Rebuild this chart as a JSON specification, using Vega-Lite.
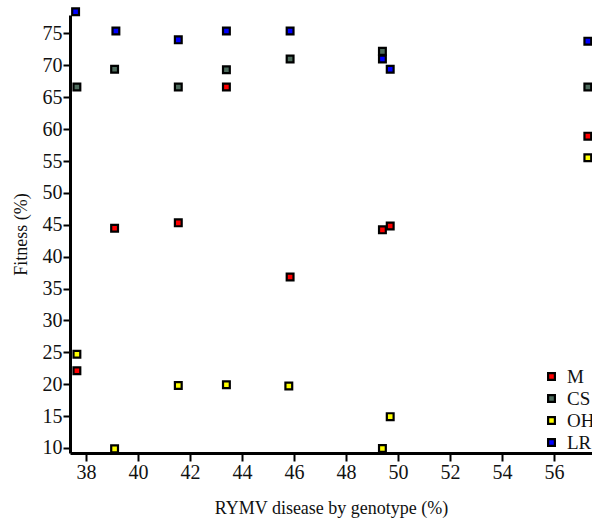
{
  "$schema": "https://vega.github.io/schema/vega-lite/v6.json",
  "autosize": "none",
  "padding": {"left": 70, "top": 15, "right": 0, "bottom": 70},
  "width": 522,
  "height": 438,
  "background": "white",
  "config": {
    "view": {"stroke": null},
    "font": "Liberation Serif, Times New Roman, serif",
    "axis": {"grid": false, "domainColor": "black", "tickColor": "black", "labelColor": "#111", "titleColor": "#111", "labelFont": "Liberation Serif, Times New Roman, serif", "titleFont": "Liberation Serif, Times New Roman, serif", "titleFontWeight": "normal"},
    "legend": {"labelFont": "Liberation Serif, Times New Roman, serif"}
  },
  "data": {
    "values": [
      {"genotype": "LR", "rymv": 37.6, "fitness": 78.4},
      {"genotype": "LR", "rymv": 39.15, "fitness": 75.4},
      {"genotype": "LR", "rymv": 41.55, "fitness": 74.0},
      {"genotype": "LR", "rymv": 43.4, "fitness": 75.4},
      {"genotype": "LR", "rymv": 45.85, "fitness": 75.4},
      {"genotype": "LR", "rymv": 49.4, "fitness": 71.0},
      {"genotype": "LR", "rymv": 49.7, "fitness": 69.4},
      {"genotype": "LR", "rymv": 57.3, "fitness": 73.8},
      {"genotype": "CS", "rymv": 37.65, "fitness": 66.6},
      {"genotype": "CS", "rymv": 39.1, "fitness": 69.4},
      {"genotype": "CS", "rymv": 41.55, "fitness": 66.6},
      {"genotype": "CS", "rymv": 43.4, "fitness": 69.3},
      {"genotype": "CS", "rymv": 45.85, "fitness": 71.0},
      {"genotype": "CS", "rymv": 49.4, "fitness": 72.2},
      {"genotype": "CS", "rymv": 57.3, "fitness": 66.6},
      {"genotype": "M", "rymv": 37.65, "fitness": 22.1},
      {"genotype": "M", "rymv": 39.1, "fitness": 44.45},
      {"genotype": "M", "rymv": 41.55, "fitness": 45.3},
      {"genotype": "M", "rymv": 43.4, "fitness": 66.6},
      {"genotype": "M", "rymv": 45.85, "fitness": 36.8},
      {"genotype": "M", "rymv": 49.4, "fitness": 44.2},
      {"genotype": "M", "rymv": 49.7, "fitness": 44.8},
      {"genotype": "M", "rymv": 57.3, "fitness": 58.9},
      {"genotype": "OH", "rymv": 37.65, "fitness": 24.7},
      {"genotype": "OH", "rymv": 39.1, "fitness": 9.85},
      {"genotype": "OH", "rymv": 41.55, "fitness": 19.8},
      {"genotype": "OH", "rymv": 43.4, "fitness": 19.9},
      {"genotype": "OH", "rymv": 45.8, "fitness": 19.7},
      {"genotype": "OH", "rymv": 49.7, "fitness": 14.9},
      {"genotype": "OH", "rymv": 49.4, "fitness": 9.9},
      {"genotype": "OH", "rymv": 57.3, "fitness": 55.5}
    ]
  },
  "mark": {"type": "point", "shape": "square", "filled": true, "size": 46, "stroke": "black", "strokeWidth": 2.2, "opacity": 1, "clip": false},
  "encoding": {
    "x": {
      "field": "rymv", "type": "quantitative",
      "scale": {"domain": [37.385, 57.46], "nice": false, "zero": false},
      "axis": {"title": "RYMV disease by genotype (%)", "values": [38, 40, 42, 44, 46, 48, 50, 52, 54, 56], "domainWidth": 3, "tickWidth": 2, "tickSize": 8, "labelFontSize": 20, "labelPadding": 1, "titleFontSize": 18, "titlePadding": 17}
    },
    "y": {
      "field": "fitness", "type": "quantitative",
      "scale": {"domain": [9.2, 77.9], "nice": false, "zero": false},
      "axis": {"title": "Fitness (%)", "values": [10, 15, 20, 25, 30, 35, 40, 45, 50, 55, 60, 65, 70, 75], "domainWidth": 3, "tickWidth": 2, "tickSize": 7, "labelFontSize": 20, "labelPadding": 1, "titleFontSize": 18, "titlePadding": 12}
    },
    "fill": {
      "field": "genotype", "type": "nominal",
      "scale": {"domain": ["M", "CS", "OH", "LR"], "range": ["#ff0000", "#4d6b5c", "#ffff00", "#0000ff"]},
      "legend": {"title": null, "orient": "none", "legendX": 472, "legendY": 352, "padding": 0, "labelFontSize": 19, "labelColor": "#111", "symbolType": "square", "symbolSize": 46, "symbolStrokeColor": "black", "symbolStrokeWidth": 2.2, "labelOffset": 6, "rowPadding": 2}
    }
  }
}
